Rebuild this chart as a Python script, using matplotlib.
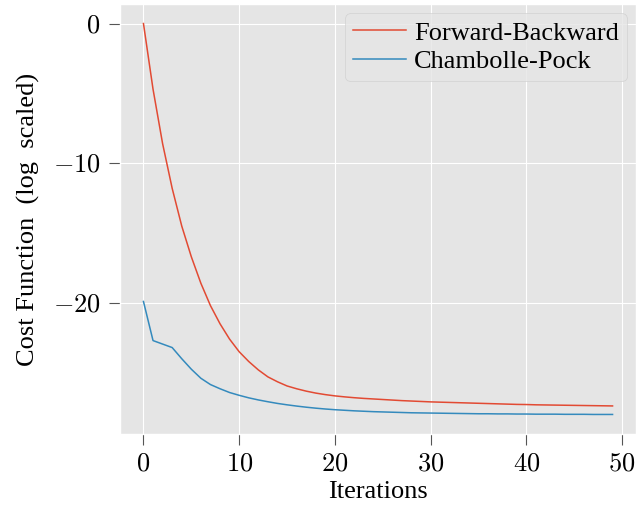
import numpy as np
import matplotlib.pyplot as plt
from matplotlib.ticker import FuncFormatter

plt.style.use('ggplot')
plt.rcParams['font.family'] = ['Liberation Serif', 'DejaVu Serif']
plt.rcParams['mathtext.fontset'] = 'cm'

iterations = np.arange(50)

forward_backward = [
    0.0, -4.7, -8.6, -11.8, -14.5, -16.7, -18.6, -20.2, -21.5, -22.6,
    -23.5, -24.2, -24.8, -25.3, -25.65, -25.95, -26.15, -26.32, -26.46, -26.57,
    -26.66, -26.73, -26.79, -26.84, -26.88, -26.92, -26.96, -27.0, -27.03, -27.06,
    -27.09, -27.11, -27.13, -27.15, -27.17, -27.19, -27.21, -27.23, -27.25, -27.27,
    -27.28, -27.3, -27.31, -27.32, -27.33, -27.34, -27.35, -27.36, -27.37, -27.38,
]

chambolle_pock = [
    -19.9, -22.7, -22.95, -23.2, -24.0, -24.75, -25.4, -25.85, -26.15, -26.42,
    -26.62, -26.8, -26.95, -27.08, -27.2, -27.3, -27.39, -27.47, -27.54, -27.6,
    -27.65, -27.69, -27.73, -27.76, -27.79, -27.81, -27.83, -27.85, -27.87, -27.88,
    -27.89, -27.9, -27.91, -27.92, -27.93, -27.94, -27.94, -27.95, -27.95, -27.96,
    -27.96, -27.97, -27.97, -27.97, -27.98, -27.98, -27.98, -27.99, -27.99, -27.99,
]

fig = plt.figure(figsize=(6.36, 5.08), dpi=100)
ax = fig.add_axes([120/636, 1 - 434/508, 516/636, 430/508])

ax.plot(iterations, forward_backward, color='#E24A33', lw=1.1, label='Forward-Backward')
ax.plot(iterations, chambolle_pock, color='#348ABD', lw=1.1, label='Chambolle-Pock')

fmt = FuncFormatter(lambda v, p: r'$%d$' % v)
ax.xaxis.set_major_formatter(fmt)
ax.yaxis.set_major_formatter(fmt)
ax.set_xticks([0, 10, 20, 30, 40, 50])
ax.set_yticks([0, -10, -20])
ax.tick_params(labelsize=19, length=8, width=0.8, pad=6, colors='#555555', labelcolor='black')

ax.set_xlabel('Iterations', fontsize=19, color='black', labelpad=4)
ax.set_ylabel('Cost Function  (log  scaled)', fontsize=19, color='black', labelpad=9)

leg = ax.legend(loc='upper right', fontsize=19, handlelength=2.0, handletextpad=0.3,
                borderaxespad=0.35, borderpad=0.3, labelspacing=0.2)
leg.get_frame().set_edgecolor('#cccccc')
leg.get_frame().set_facecolor('#e5e5e5')

fig.savefig('out.png', dpi=100)
